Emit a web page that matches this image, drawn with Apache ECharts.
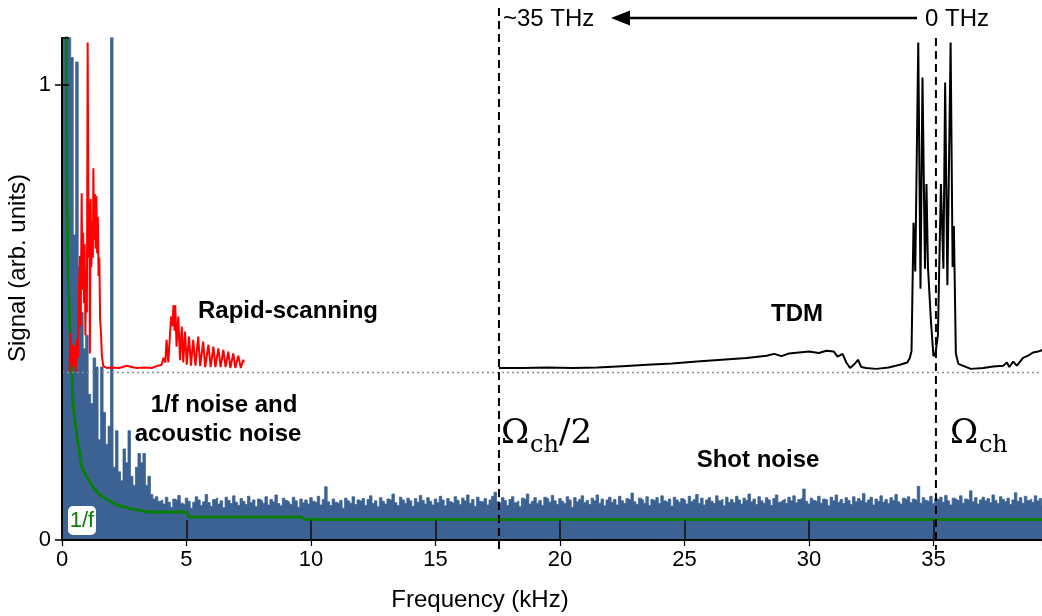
<!DOCTYPE html>
<html>
<head>
<meta charset="utf-8">
<script src="https://cdn.jsdelivr.net/npm/echarts@6/dist/echarts.min.js"></script>
<style>
  html, body { margin: 0; padding: 0; background: #fff; }
  #chart { width: 1042px; height: 616px; }
</style>
</head>
<body>
<div id="chart"></div>
<script>
// Axis ranges and ticks
const FREQ_MAX = 39.36;          // kHz, right edge of the frequency axis
const SIGNAL_MAX = 1.103;        // arb. units, top edge
const xTickStep = 5;             // kHz between ticks: 0, 5, ... 35
const yTickStep = 1;             // ticks at 0 and 1

// Detector noise spectrum, sampled every 0.1 kHz from 0 kHz
const noiseStep = 0.1;
const noiseLevels = [
  0.03, 1.2, 1.2, 1.2, 1.06, 0.67, 1.05, 0.6, 0.5, 0.42,
  0.45, 0.32, 0.3, 0.4, 0.38, 0.22, 0.38, 0.28, 0.21, 0.25,
  1.2, 0.16, 0.24, 0.15, 0.13, 0.2, 0.17, 0.24, 0.14, 0.12,
  0.16, 0.19, 0.17, 0.19, 0.12, 0.14, 0.1, 0.09, 0.095, 0.085,
  .088,.079,.094,.083,.072,.090,.086,.098,.081,.077,
  .092,.085,.070,.083,.095,.088,.076,.084,.100,.082,
  .074,.089,.093,.079,.086,.071,.094,.087,.080,.097,
  .083,.076,.091,.085,.078,.096,.082,.088,.073,.090,
  .086,.081,.095,.077,.089,.084,.099,.080,.075,.092,
  .087,.083,.078,.094,.086,.072,.090,.082,.088,.079,
  .093,.085,.081,.096,.077,.089,.117,.084,.076,.090,
  .083,.079,.087,.070,.092,.086,.081,.095,.078,.088,
  .084,.091,.076,.089,.097,.080,.086,.073,.093,.085,
  .079,.090,.087,.101,.082,.076,.094,.088,.081,.092,
  .086,.074,.091,.083,.098,.087,.079,.093,.085,.077,
  .090,.082,.096,.088,.075,.091,.084,.080,.095,.087,
  .078,.092,.086,.099,.081,.089,.074,.094,.085,.083,
  .091,.077,.088,.096,.105,.084,.080,.093,.087,.076,
  .089,.095,.082,.086,.073,.092,.088,.101,.079,.085,
  .093,.081,.087,.076,.094,.090,.083,.098,.086,.078,
  .091,.085,.080,.095,.088,.072,.093,.084,.089,.097,
  .082,.087,.078,.092,.086,.099,.081,.090,.075,.088,
  .094,.083,.089,.077,.096,.086,.080,.091,.087,.103,
  .084,.078,.092,.088,.081,.095,.076,.089,.085,.093,
  .080,.097,.086,.082,.090,.074,.094,.088,.083,.091,
  .087,.079,.096,.084,.089,.100,.081,.092,.077,.088,
  .093,.085,.080,.097,.086,.090,.075,.094,.083,.089,
  .082,.096,.088,.079,.092,.087,.101,.084,.090,.078,
  .095,.086,.081,.093,.088,.076,.091,.099,.083,.087,
  .090,.080,.094,.086,.097,.082,.089,.093,.112,.085,
  .079,.092,.087,.084,.096,.081,.090,.088,.075,.094,
  .086,.099,.083,.089,.080,.093,.087,.078,.095,.084,
  .091,.086,.102,.082,.088,.094,.077,.090,.085,.097,
  .083,.089,.080,.093,.087,.100,.084,.079,.092,.088,
  .095,.082,.090,.086,.118,.081,.093,.087,.084,.096,
  .080,.091,.088,.094,.083,.098,.086,.077,.092,.089,
  .085,.097,.081,.090,.087,.108,.084,.093,.079,.088,
  .094,.086,.091,.082,.099,.087,.080,.095,.089,.084,
  .092,.078,.088,.104,.085,.093,.081,.096,.087,.090,
  .083,.097,.086,.091,.088
];

// 1/f envelope [kHz, signal]
const oneOverF = [
  [0.15, 1.5], [0.19, 0.8], [0.24, 0.593], [0.32, 0.462], [0.40, 0.367],
  [0.44, 0.301], [0.60, 0.226], [0.80, 0.16], [1.0, 0.138], [1.25, 0.116],
  [1.53, 0.099], [1.85, 0.088], [2.21, 0.077], [2.65, 0.07], [3.45, 0.0615],
  [5.0, 0.0615], [5.1, 0.0505], [9.6, 0.0505], [9.75, 0.045], [39.4, 0.045]
];

// Rapid-scanning interferogram [kHz, signal]
const rapidScan = [
  [0.30, 0.37], [0.33, 0.455], [0.37, 0.39], [0.41, 0.43], [0.45, 0.38],
  [0.50, 0.426], [0.55, 0.37], [0.60, 0.44], [0.64, 0.40], [0.68, 0.55],
  [0.72, 0.624], [0.75, 0.47], [0.79, 0.762], [0.82, 0.55], [0.85, 0.675],
  [0.88, 0.52], [0.91, 0.65], [0.94, 0.45], [0.97, 0.595], [1.00, 0.50],
  [1.03, 1.093], [1.07, 0.62], [1.10, 0.74], [1.12, 0.41], [1.15, 0.75],
  [1.18, 0.60], [1.21, 0.70], [1.24, 0.62], [1.26, 0.817], [1.29, 0.66],
  [1.32, 0.76], [1.35, 0.64], [1.38, 0.756], [1.41, 0.63], [1.44, 0.71],
  [1.47, 0.58], [1.50, 0.62], [1.53, 0.486], [1.57, 0.45], [1.60, 0.405],
  [1.66, 0.382], [1.8, 0.378], [2.0, 0.379], [2.3, 0.378], [2.6, 0.383],
  [2.8, 0.38], [3.0, 0.378], [3.3, 0.379], [3.6, 0.378], [3.8, 0.382],
  [4.0, 0.385], [4.07, 0.40], [4.15, 0.39], [4.2, 0.44], [4.27, 0.39],
  [4.38, 0.491], [4.43, 0.47], [4.48, 0.516], [4.52, 0.46], [4.55, 0.516],
  [4.6, 0.425], [4.67, 0.491], [4.74, 0.395], [4.81, 0.469], [4.87, 0.39],
  [4.94, 0.458], [5.01, 0.385], [5.1, 0.447], [5.18, 0.383], [5.27, 0.44],
  [5.36, 0.383], [5.47, 0.447], [5.55, 0.382], [5.67, 0.436], [5.75, 0.38],
  [5.88, 0.429], [5.97, 0.38], [6.08, 0.425], [6.16, 0.38], [6.28, 0.421],
  [6.37, 0.38], [6.48, 0.418], [6.57, 0.38], [6.68, 0.414], [6.76, 0.378],
  [6.88, 0.41], [6.96, 0.378], [7.08, 0.405], [7.18, 0.378], [7.28, 0.396],
  [7.3, 0.39]
];

// TDM signal [kHz, signal]
const tdmSignal = [
  [17.55, 0.378], [18.5, 0.378], [19.5, 0.379], [20.5, 0.378], [21.5, 0.379],
  [22.5, 0.382], [23.5, 0.385], [24.5, 0.388], [25.5, 0.392], [26.5, 0.396],
  [27.5, 0.400], [28.3, 0.405], [28.6, 0.409], [28.9, 0.404], [29.2, 0.410],
  [29.6, 0.412], [30.0, 0.414], [30.4, 0.411], [30.7, 0.416], [31.0, 0.414],
  [31.15, 0.403], [31.35, 0.409], [31.5, 0.39], [31.65, 0.378], [31.8, 0.385],
  [31.97, 0.396], [32.1, 0.38], [32.3, 0.378], [32.7, 0.376], [33.2, 0.379],
  [33.65, 0.385], [33.95, 0.39], [34.05, 0.40], [34.12, 0.415], [34.2, 0.697],
  [34.27, 0.59], [34.39, 1.093], [34.48, 0.552], [34.56, 1.016], [34.66, 0.596],
  [34.72, 0.782], [34.78, 0.60], [34.9, 0.48], [35.0, 0.404], [35.08, 0.41],
  [35.18, 0.45], [35.3, 0.782], [35.4, 0.596], [35.47, 1.005], [35.56, 0.56],
  [35.69, 1.093], [35.77, 0.60], [35.82, 0.69], [35.9, 0.41], [36.0, 0.387],
  [36.5, 0.376], [37.0, 0.378], [37.4, 0.381], [37.8, 0.383], [37.95, 0.39],
  [38.05, 0.38], [38.2, 0.392], [38.35, 0.383], [38.6, 0.40], [38.8, 0.405],
  [39.0, 0.412], [39.2, 0.414], [39.4, 0.418]
];

// Reference level and characteristic frequencies
const offsetLevel = 0.368;
const omegaCh = 35.1;            // kHz
const omegaHalf = 17.55;         // kHz

const BLUE = '#3b6292';
const GREEN = '#0b7d0b';
const FONT = '"Liberation Sans", Arial, Helvetica, sans-serif';

const noiseData = noiseLevels.map((v, i) => [+(i * noiseStep).toFixed(2), v]);

const chart = echarts.init(document.getElementById('chart'), null, { renderer: 'canvas' });

chart.setOption({
  animation: false,
  backgroundColor: '#fff',
  grid: { left: 62, right: 0, top: 38, bottom: 76, outerBoundsMode: 'none' },
  xAxis: [
    {
      type: 'value', position: 'bottom', min: 0, max: FREQ_MAX, interval: xTickStep, z: 5,
      axisLine: { show: true, lineStyle: { color: '#000', width: 1.5 } },
      axisTick: { show: true, inside: true, length: 20, lineStyle: { color: '#111', width: 1.5 } },
      axisLabel: { show: true, margin: 9, color: '#000', fontSize: 22, fontFamily: FONT, showMaxLabel: false },
      splitLine: { show: false }
    },
    {
      type: 'value', position: 'top', min: 0, max: FREQ_MAX, interval: xTickStep, z: 5,
      axisLine: { show: true, lineStyle: { color: '#000', width: 2 } },
      axisTick: { show: true, inside: true, length: 6, lineStyle: { color: '#000', width: 1.2 } },
      axisLabel: { show: false },
      splitLine: { show: false }
    }
  ],
  yAxis: [
    {
      type: 'value', position: 'left', min: 0, max: SIGNAL_MAX, interval: yTickStep, z: 5,
      axisLine: { show: true, lineStyle: { color: '#000', width: 2 } },
      axisTick: { show: true, inside: false, length: 7, lineStyle: { color: '#000', width: 1.5 } },
      axisLabel: { show: true, margin: 11, color: '#000', fontSize: 22, fontFamily: FONT, showMaxLabel: false },
      splitLine: { show: false }
    },
    {
      type: 'value', position: 'left', min: 0, max: SIGNAL_MAX, interval: yTickStep, z: 5,
      axisLine: { show: false },
      axisTick: { show: true, inside: true, length: 7, lineStyle: { color: '#000', width: 1.5 } },
      axisLabel: { show: false },
      splitLine: { show: false }
    }
  ],
  series: [
    {
      name: 'noise', type: 'line', data: noiseData, step: 'middle', showSymbol: false, symbol: 'none',
      lineStyle: { color: BLUE, width: 0.8 }, areaStyle: { color: BLUE, opacity: 1 }, z: 2
    },
    {
      name: '1/f', type: 'line', data: oneOverF, showSymbol: false, symbol: 'none',
      lineStyle: { color: GREEN, width: 3 }, z: 3
    },
    {
      name: 'offset', type: 'line', data: [[0, offsetLevel], [FREQ_MAX, offsetLevel]], showSymbol: false, symbol: 'none',
      lineStyle: { color: '#8c8c8c', width: 1.5, type: [2, 3] }, z: 3
    },
    {
      name: 'Rapid-scanning', type: 'line', data: rapidScan, showSymbol: false, symbol: 'none',
      lineStyle: { color: '#ff0000', width: 2 }, z: 4
    },
    {
      name: 'TDM', type: 'line', data: tdmSignal, showSymbol: false, symbol: 'none',
      lineStyle: { color: '#000', width: 2 }, z: 4
    }
  ]
});

// Annotations: axis titles, dashed markers, labels and the THz arrow
const px = v => chart.convertToPixel({ xAxisIndex: 0 }, v);
const py = v => chart.convertToPixel({ yAxisIndex: 0 }, v);
const xHalf = px(omegaHalf), xCh = px(omegaCh);
const yTop = py(SIGNAL_MAX), yZero = py(0);

function label(text, x, y, opts) {
  return {
    type: 'text', z: 20,
    style: Object.assign({
      text, x, y, fill: '#000', font: 'bold 24px ' + FONT,
      textAlign: 'center', textVerticalAlign: 'middle'
    }, opts || {})
  };
}
const SERIF_BIG = '34px "DejaVu Serif", "Liberation Serif", serif';
const SERIF_SUB = '24px "DejaVu Serif", "Liberation Serif", serif';

chart.setOption({
  graphic: [
    { type: 'line', z: 15, shape: { x1: xHalf, y1: 8, x2: xHalf, y2: yZero + 12 },
      style: { stroke: '#000', lineWidth: 2, lineDash: [8, 5] } },
    { type: 'line', z: 15, shape: { x1: xCh, y1: yTop, x2: xCh, y2: yZero + 10 },
      style: { stroke: '#000', lineWidth: 2, lineDash: [8, 5] } },

    label('Rapid-scanning', 288, 311),
    label('1/f noise and', 224, 405),
    label('acoustic noise', 218, 434),
    label('TDM', 797, 314),
    label('Shot noise', 758, 460),

    label('\u03A9', xHalf + 2, 434, { font: SERIF_BIG, textAlign: 'left' }),
    label('ch', xHalf + 31, 446, { font: SERIF_SUB, textAlign: 'left' }),
    label('/2', xHalf + 60, 434, { font: SERIF_BIG, textAlign: 'left' }),
    label('\u03A9', xCh + 14, 434, { font: SERIF_BIG, textAlign: 'left' }),
    label('ch', xCh + 43, 446, { font: SERIF_SUB, textAlign: 'left' }),

    label('~35 THz', xHalf + 4, 19, { font: '24px ' + FONT, textAlign: 'left' }),
    label('0 THz', 925, 19, { font: '24px ' + FONT, textAlign: 'left' }),
    { type: 'line', z: 15, shape: { x1: 626, y1: 18, x2: 917, y2: 18 },
      style: { stroke: '#000', lineWidth: 2.5 } },
    { type: 'polygon', z: 15, shape: { points: [[611, 18], [630, 10.5], [630, 25.5]] },
      style: { fill: '#000' } },

    { type: 'rect', z: 18, shape: { x: 68, y: 506, width: 28, height: 29, r: 5 },
      style: { fill: '#fff' } },
    label('1/f', 82, 521, { font: '22px ' + FONT, fill: GREEN }),

    label('Frequency (kHz)', 480, 600, { font: '24px ' + FONT }),
    { type: 'text', z: 20, x: 18, y: 268, rotation: Math.PI / 2,
      style: { text: 'Signal (arb. units)', x: 0, y: 0, fill: '#000', font: '24px ' + FONT,
               textAlign: 'center', textVerticalAlign: 'middle' } }
  ]
});
</script>
</body>
</html>
